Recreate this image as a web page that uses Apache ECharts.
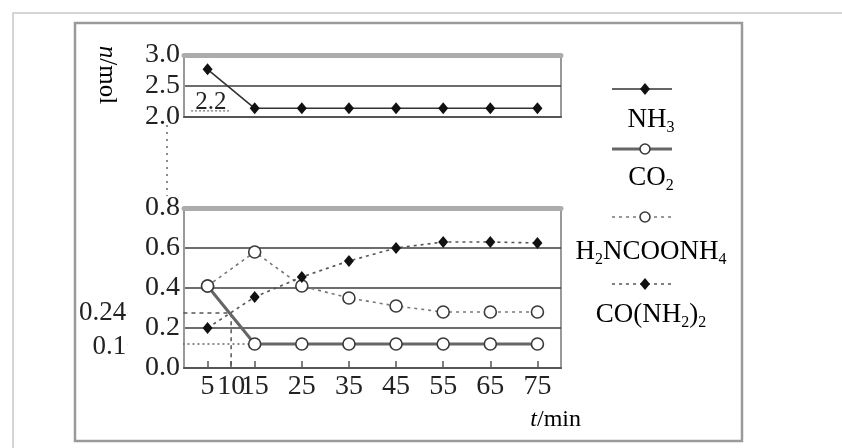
<!DOCTYPE html>
<html><head><meta charset="utf-8">
<script src="https://cdn.jsdelivr.net/npm/echarts@6/dist/echarts.min.js"></script>
<style>html,body{margin:0;padding:0;background:#fff}#c{width:842px;height:448px}</style>
</head><body><div id="c"></div>
<script>
// ---- data ----
const times = [5, 15, 25, 35, 45, 55, 65, 75];
const tickTimes = [5, 10, 15, 25, 35, 45, 55, 65, 75];
const nh3 = [2.77, 2.14, 2.14, 2.14, 2.14, 2.14, 2.14, 2.14];
const co2 = [0.41, 0.12, 0.12, 0.12, 0.12, 0.12, 0.12, 0.12];
const carbamate = [0.41, 0.58, 0.41, 0.35, 0.31, 0.28, 0.28, 0.28];
const urea = [0.20, 0.355, 0.455, 0.535, 0.60, 0.63, 0.63, 0.625];
const upperRange = [2.0, 3.0, 0.5];
const lowerRange = [0.0, 0.8, 0.2];
// guide lines: [value, label, time where it ends]
const guide024 = [0.275, '0.24', 10];
const guide01 = [0.12, '0.1', 15];
const guide22 = [2.10, '2.2', 10];
const legendNames = ['{n|NH}{s|3}', '{n|CO}{s|2}', '{n|H}{s|2}{n|NCOONH}{s|4}', '{n|CO(NH}{s|2}{n|)}{s|2}'];

const FONT = "'Liberation Serif', 'Times New Roman', serif";
const TXT = '#222';
const zip = (xs, ys) => xs.map((x, i) => [x, ys[i]]);

const axisLabelStyle = {fontFamily: FONT, fontSize: 28, color: TXT};
const richSub = {
  n: {fontFamily: FONT, fontSize: 27, color: TXT, lineHeight: 31},
  s: {fontFamily: FONT, fontSize: 16, color: TXT, verticalAlign: 'bottom'}
};

function xAxes(gi, withLabels) {
  return [{
    gridIndex: gi, type: 'value', min: 0, max: 80, position: 'bottom',
    axisLine: {show: true, onZero: false, lineStyle: {color: '#555', width: 2}},
    axisTick: withLabels ? {show: true, inside: true, length: 7, customValues: tickTimes, lineStyle: {color: '#555', width: 1.5}} : {show: false},
    axisLabel: withLabels ? Object.assign({show: true, margin: 5, customValues: tickTimes}, axisLabelStyle) : {show: false},
    splitLine: {show: false}
  }, {
    gridIndex: gi, type: 'value', min: 0, max: 80, position: 'top',
    axisLine: {show: true, onZero: false, lineStyle: {color: '#acacac', width: 5}},
    axisTick: {show: false}, axisLabel: {show: false}, splitLine: {show: false}
  }];
}
function yAxis(gi, r) {
  return {
    gridIndex: gi, type: 'value', min: r[0], max: r[1], interval: r[2],
    axisLine: {show: true, onZero: false, lineStyle: {color: '#999', width: 2}},
    axisTick: {show: false},
    axisLabel: Object.assign({margin: 4, formatter: v => v.toFixed(1)}, axisLabelStyle),
    splitLine: {show: true, showMinLine: false, showMaxLine: false, lineStyle: {color: '#3c3c3c', width: 1.6}}
  };
}

const openSym = {color: '#fff', borderColor: '#3a3a3a', borderWidth: 1.6};
const annLabel = (text, size, pos, extra) => Object.assign({show: true, position: pos, distance: 1, formatter: text,
  fontFamily: FONT, fontSize: size, color: TXT, opacity: 1}, extra || {});
const series = [
  {name: 'NH3', type: 'line', xAxisIndex: 0, yAxisIndex: 0, data: zip(times, nh3),
   symbol: 'diamond', symbolSize: [10, 12], itemStyle: {color: '#111'},
   lineStyle: {color: '#333', width: 1.6}, z: 5},
  {name: 'CO2', type: 'line', xAxisIndex: 2, yAxisIndex: 1, data: zip(times, co2),
   symbol: 'circle', symbolSize: 12, itemStyle: openSym,
   lineStyle: {color: '#666', width: 3}, z: 5},
  {name: 'H2NCOONH4', type: 'line', xAxisIndex: 2, yAxisIndex: 1, data: zip(times, carbamate),
   symbol: 'circle', symbolSize: 12, itemStyle: openSym,
   lineStyle: {color: '#777', width: 1.6, type: [3, 4]}, z: 4},
  {name: 'CO(NH2)2', type: 'line', xAxisIndex: 2, yAxisIndex: 1, data: zip(times, urea),
   symbol: 'diamond', symbolSize: [10, 12], itemStyle: {color: '#111'},
   lineStyle: {color: '#555', width: 1.6, type: [3, 4]}, z: 6},
  // guide lines
  {type: 'line', xAxisIndex: 2, yAxisIndex: 1, clip: false, silent: true, symbol: 'none', z: 3,
   data: [[-12, guide024[0]], [guide024[2], guide024[0]], [guide024[2], 0]],
   lineStyle: {color: '#555', width: 1.5, type: [4, 4]}},
  {type: 'line', xAxisIndex: 2, yAxisIndex: 1, clip: false, silent: true, symbol: 'none', z: 3,
   data: [[-12, guide01[0]], [guide01[2], guide01[0]]],
   lineStyle: {color: '#666', width: 1.5, type: [2, 3]}},
  {type: 'line', xAxisIndex: 0, yAxisIndex: 0, clip: false, silent: true, symbol: 'none', z: 3,
   data: [[1.5, guide22[0]], [guide22[2], guide22[0]]],
   lineStyle: {color: '#777', width: 1.2, type: [2, 2]}},
  // annotation labels
  {type: 'scatter', xAxisIndex: 2, yAxisIndex: 1, clip: false, silent: true, symbolSize: 0.5,
   itemStyle: {color: TXT, opacity: 1},
   data: [
     {value: [-12, guide024[0]], label: annLabel(guide024[1], 27, 'left')},
     {value: [-12, guide01[0]], label: annLabel(guide01[1], 27, 'left', {offset: [0, 3]})}
   ]},
  {type: 'scatter', xAxisIndex: 0, yAxisIndex: 0, clip: false, silent: true, symbolSize: 0.5,
   itemStyle: {color: TXT, opacity: 1},
   data: [{value: [5.7, guide22[0]], label: annLabel(guide22[1], 25, 'top', {distance: -4})}]}
];

// legend drawn as graphic (icon above, text below)
const legendSpec = [
  {lineY: 89, textY: 120, dash: null, stroke: '#333', w: 1.6, filled: true},
  {lineY: 149, textY: 178, dash: null, stroke: '#666', w: 3, filled: false},
  {lineY: 217, textY: 252, dash: [3, 4], stroke: '#777', w: 1.6, filled: false},
  {lineY: 284, textY: 315, dash: [3, 4], stroke: '#555', w: 1.6, filled: true}
];
const legendGraphics = [];
legendSpec.forEach((s, i) => {
  legendGraphics.push({type: 'line', shape: {x1: 612, y1: s.lineY, x2: 672, y2: s.lineY},
    style: {stroke: s.stroke, lineWidth: s.w, lineDash: s.dash}});
  if (s.filled) {
    legendGraphics.push({type: 'polygon', shape: {points: [[645, s.lineY - 6], [650, s.lineY], [645, s.lineY + 6], [640, s.lineY]]},
      style: {fill: '#111'}});
  } else {
    legendGraphics.push({type: 'circle', shape: {cx: 645, cy: s.lineY, r: 5},
      style: {fill: '#fff', stroke: '#3a3a3a', lineWidth: 1.6}});
  }
  legendGraphics.push({type: 'text', x: 651, y: s.textY,
    style: {text: legendNames[i], rich: richSub, align: 'center', verticalAlign: 'middle'}});
});

const option = {
  animation: false,
  backgroundColor: '#fff',
  grid: [
    {left: 184, top: 55, width: 377, height: 62, show: true, borderColor: '#999', borderWidth: 2, backgroundColor: 'rgba(0,0,0,0)', outerBoundsMode: 'none'},
    {left: 184, top: 208, width: 377, height: 160, show: true, borderColor: '#999', borderWidth: 2, backgroundColor: 'rgba(0,0,0,0)', outerBoundsMode: 'none'}
  ],
  xAxis: [...xAxes(0, false), ...xAxes(1, true)],
  yAxis: [yAxis(0, upperRange), yAxis(1, lowerRange)],
  series: series,
  graphic: [
    {type: 'rect', shape: {x: 13, y: 13, width: 840, height: 440}, style: {fill: 'none', stroke: '#c8c8c8', lineWidth: 1.5}, z: -10},
    {type: 'rect', shape: {x: 75, y: 23, width: 667, height: 418}, style: {fill: 'none', stroke: '#9a9a9a', lineWidth: 2.5}, z: -10},
    {type: 'line', shape: {x1: 167, y1: 125, x2: 167, y2: 196}, style: {stroke: '#666', lineWidth: 1.5, lineDash: [2, 5]}},
    {type: 'text', x: 107, y: 75, rotation: -Math.PI / 2,
     style: {text: '{i|n}{m|/mol}', align: 'center', verticalAlign: 'middle',
       rich: {i: {fontFamily: FONT, fontSize: 25, fontStyle: 'italic', color: TXT}, m: {fontFamily: FONT, fontSize: 25, color: TXT}}}},
    {type: 'text', x: 581, y: 420,
     style: {text: '{i|t}{m|/min}', align: 'right', verticalAlign: 'middle',
       rich: {i: {fontFamily: FONT, fontSize: 24, fontStyle: 'italic', color: TXT}, m: {fontFamily: FONT, fontSize: 24, color: TXT}}}},
    ...legendGraphics
  ]
};
const chart = echarts.init(document.getElementById('c'), null, {renderer: 'canvas'});
chart.setOption(option);
</script></body></html>
